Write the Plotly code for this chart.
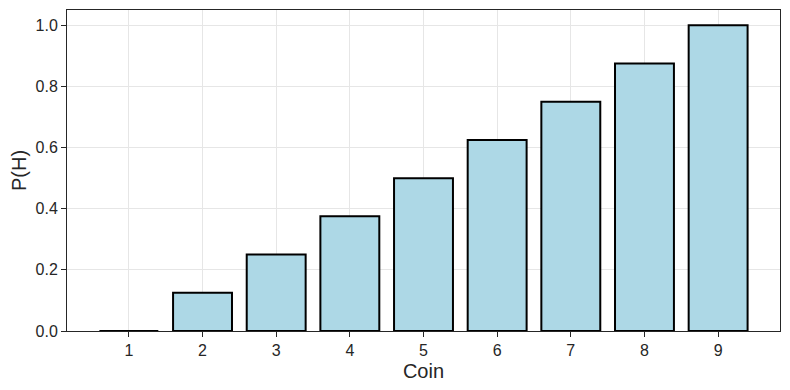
import plotly.graph_objects as go

coins = [1, 2, 3, 4, 5, 6, 7, 8, 9]
p_heads = [0.0, 0.125, 0.25, 0.375, 0.5, 0.625, 0.75, 0.875, 1.0]
tick_labels = ["1", "2", "3", "4", "5", "6", "7", "8", "9"]

fig = go.Figure(go.Bar(
    x=coins, y=p_heads, width=0.8,
    marker=dict(color="#ADD8E6", line=dict(color="black", width=2)),
))

font_family = "Liberation Sans, Arial, sans-serif"
fig.update_layout(
    width=782, height=382,
    margin=dict(l=59, r=10, t=2, b=59),
    plot_bgcolor="white", paper_bgcolor="white",
    showlegend=False,
    font=dict(family=font_family, color="#262626"),
)
fig.update_xaxes(
    range=[0.16, 9.84], tickvals=coins, ticktext=tick_labels,
    showgrid=True, gridcolor="#e6e6e6", gridwidth=1,
    showline=True, linecolor="#262626", linewidth=1, mirror=True,
    ticks="outside", ticklen=5, tickcolor="#262626",
    tickfont=dict(size=16),
    title=dict(text="Coin", font=dict(size=20), standoff=5),
    zeroline=False,
)
fig.update_yaxes(
    range=[0, 1.05], tickvals=[0, 0.2, 0.4, 0.6, 0.8, 1.0],
    ticktext=["0.0", "0.2", "0.4", "0.6", "0.8", "1.0"],
    showgrid=True, gridcolor="#e6e6e6", gridwidth=1,
    showline=True, linecolor="#262626", linewidth=1, mirror=True,
    ticks="outside", ticklen=5, tickcolor="#262626",
    tickfont=dict(size=16),
    title=dict(text="P(H)", font=dict(size=20), standoff=5),
    zeroline=False,
)
fig.write_html("out.html")
